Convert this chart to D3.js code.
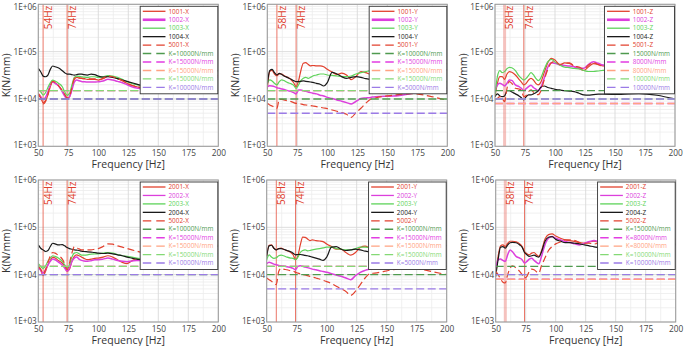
<!DOCTYPE html>
<html><head><meta charset="utf-8">
<script src="https://cdn.jsdelivr.net/npm/d3@7"></script>
<style>body{margin:0;background:#fff;} svg{display:block;font-family:'Open Sans',sans-serif;}</style>
</head><body><svg id="c" width="685" height="346"></svg>
<script>
// ---------- data ----------
const freq = [50,52,54,56,58,60,62,64,67,70,72,74,76,78,80,82,84,86,88,91,94,97,100,104,108,112,116,120,124,128,132,136,140,155,170,185,200];
const xTicks = [50,75,100,125,150,175,200];
const yTicks = [1e3,1e4,1e5,1e6];
const yTickLabels = ["1E+03","1E+04","1E+05","1E+06"];

const k1001X = [13100,11100,8300,9200,12100,18100,23100,22000,18700,14900,12100,10300,11100,16700,26000,28500,27700,27200,26800,26000,26000,26000,25100,26800,30000,29500,26800,24300,21300,19300,18100,17200,16700,18000,22000,27000,31000];
const k1002X = [12100,11100,9800,10800,14200,19700,22700,21300,18700,14200,11500,10100,11100,15400,22700,25100,24300,23500,23100,22700,22700,22700,23100,23900,26000,25100,23500,22000,20000,18100,17000,16400,15900,17000,21000,25000,29000];
const k1003X = [15400,14200,12100,13500,17500,22000,25100,23900,21300,18100,14200,11900,13100,19700,28500,30400,30000,29500,29000,28500,29500,29500,28500,29500,31000,30400,28500,26000,23100,21300,20000,19100,18100,20000,25000,32000,38000];
const k1004X = [44300,37600,30400,29500,32000,42200,49700,48000,45000,39500,35800,33600,33600,32600,32000,32600,33600,33600,32600,32000,33600,32600,30400,29000,29500,28600,26800,25100,23500,22000,20600,19300,18700,20000,24000,32000,40000];
const k5001X = [12500,10500,7900,8800,12500,19000,23500,22500,19000,15000,12500,10500,11500,17500,27000,29000,28000,27500,27000,26500,26500,26500,25500,27500,30500,29500,27000,24500,21500,19500,18300,17500,17000,18500,22500,27500,32000];

const k1001Y = [16000,38000,40000,33700,31000,34000,33700,31000,28700,25200,22000,18200,24000,40000,57000,58600,54000,50000,51000,50000,50000,48000,42300,37000,33000,35000,32000,25500,30000,38000,36000,33000,32000,40000,50000,55000,56000];
const k1002Y = [18200,19100,18800,18200,17300,16800,16300,15800,15000,14300,13600,12800,15500,15500,15000,14500,14100,13600,13200,12800,12000,11600,10800,10200,9530,8950,8370,7840,8950,10200,10500,10800,11200,11500,13000,15500,17000];
const k1003Y = [21400,25200,24000,21400,19800,23200,25200,24400,22100,20800,19400,16800,19800,24400,27300,28700,27300,28700,30600,32100,33700,33700,32100,31500,30600,29600,29600,30600,33700,36000,37800,39700,41000,36000,32000,27000,23000];
const k1004Y = [20000,39700,42300,36000,32100,34800,33000,30600,28200,26000,24400,23200,23200,23600,24000,23600,23200,22800,22400,21400,20500,18800,22100,36600,33700,29600,27300,28700,29600,28700,26900,26000,27300,30000,35000,40000,41000];
const k5001Y = [8100,7460,7110,6670,6350,9850,9850,9530,9100,8800,8370,8100,8100,7840,7600,7460,7350,7250,7110,6900,6670,6450,6250,5860,5500,5150,4740,4100,5200,6350,8100,9850,10500,12000,13000,11500,9300];

const k1001Z = [11200,21400,29600,29600,26000,33700,37800,36800,32100,26000,22700,19800,21400,25200,27300,25200,21400,19800,22100,36000,58000,72300,66700,52300,58000,56700,48000,44000,40000,48000,56000,54000,50000,52000,55000,50000,48000];
const k1002Z = [15500,19800,21400,20400,18800,21400,25200,24700,19800,18200,16800,15000,16500,18200,19500,17500,16200,15000,17000,27300,46700,58300,56700,52300,51000,49800,48000,45000,44400,54000,61500,56700,52300,50000,48000,46000,44000];
const k1003Z = [12300,29600,39700,36000,37800,43700,46700,45500,39700,30600,27300,25200,27300,31500,36000,32500,27300,24400,27300,42300,61500,68800,60000,52000,47000,46000,44000,43000,40000,38000,38000,39000,40000,40000,42000,44000,45000];
const k1004Z = [11200,12800,11600,11200,11600,14900,14900,14000,12800,11600,10600,9530,11200,12200,12200,12800,13600,14900,17500,18800,17500,16800,16000,15500,14900,14700,14300,13200,12200,12000,12400,12600,12600,12500,13000,12000,10000];
const k5001Z = [9500,10300,11200,10300,8800,16800,23200,21400,16800,16200,15000,11200,11800,14300,15500,14000,12800,12300,14300,25200,42000,58000,62000,54000,56700,58300,50000,47000,43000,52300,58300,53000,50000,50000,52000,48000,47000];

const k2001X = [15000,12400,9530,11700,16200,19700,23500,22400,19700,17600,15000,11700,13000,19100,24300,26300,25100,23500,22100,20700,21300,22100,22400,23500,25100,23500,20700,18200,17100,19700,21800,21300,20700,20000,26000,34000,42000];
const k2002X = [13800,12400,10800,12700,16000,19100,21300,20700,18200,16000,13800,11900,13800,19100,22400,23500,21300,20000,19400,19100,19700,20700,20700,21300,22400,21300,20000,19100,18800,19400,20000,19700,19400,20000,23000,26000,28000];
const k2003X = [17000,15000,13600,15400,19100,22400,25100,24300,22100,19100,16200,13800,16200,23500,28500,29400,27600,25900,25900,26300,27200,27600,27600,28500,29400,28500,26700,25100,24300,23500,22400,21600,20900,24000,30000,36000,42000];
const k2004X = [42500,36200,33400,30900,32400,39300,46100,44700,42500,43200,40600,37400,35600,34500,33400,32900,32400,31400,30900,30400,29900,29400,28500,28000,28500,27600,26300,25100,23500,22400,21300,20700,20000,23000,28000,34000,40000];
const k5002X = [15400,13100,10500,12700,18200,25100,29400,28500,25100,21300,17000,12700,17600,28500,38700,36800,35000,33400,33400,33400,33400,34500,35600,39300,44700,44000,40600,38100,35600,33400,31400,29400,28500,28000,32000,36000,42000];

const k2001Y = [25100,41800,42500,36200,33400,35600,36200,34500,31900,29400,26300,20700,25100,42500,62400,61600,56900,52500,54200,52500,51500,50000,44300,39300,34500,34500,29400,25900,29400,37400,39900,36200,33400,45000,55000,62000,68000];
const k2002Y = [17000,18200,17600,16700,16200,15700,15400,15200,14700,14200,13600,12700,15000,15400,15000,14500,14100,13600,13100,12700,12100,11700,11200,10500,9840,9220,8510,7850,9520,11200,12300,13100,13800,14000,15000,16500,18000];
const k2003Y = [20700,26300,23500,22100,22700,25100,25900,25100,23500,22400,22100,20700,23500,29400,32400,33400,31900,32400,33400,34500,35600,36800,38100,38100,35600,34500,33400,33400,35600,38100,38100,37400,36200,33000,30000,27000,24000];
const k2004Y = [24300,40600,41800,36200,33400,35600,35600,34500,32400,30400,28500,26300,26700,26700,26300,25500,25100,24300,23500,22400,21300,20000,23500,38100,39300,34500,32400,33400,34500,33400,31400,30400,30900,35000,38000,40000,41000];
const k5002Y = [8510,7850,7250,6690,6170,11700,13600,13100,12700,12100,11900,11200,10800,10500,10000,9840,9520,9220,8930,8510,8110,7610,7140,6490,5700,5030,4420,3640,4470,6170,8510,10500,10800,12700,14000,12000,10000];

const k2001Z = [10000,24300,40600,42500,39300,46100,50800,50800,49200,44700,39300,30900,27600,26300,28500,29400,26300,24300,30900,55900,70100,72400,65700,58800,54200,52500,50000,47700,46100,49200,50800,48400,50000,52000,56000,58000,56000];
const k2002Z = [13800,20700,21300,20000,19100,26300,33400,30400,24300,22400,20700,17600,19100,21300,22100,20000,18200,17000,23500,42500,58800,63700,58800,54200,50000,47700,44700,42500,46100,50000,52500,50000,47700,46000,44000,43000,42000];
const k2003Z = [];
const k2004Z = [9220,20700,38100,39300,36200,42500,47300,48100,47300,42500,38100,29400,26300,24300,25100,25900,24300,23500,29400,50000,61700,63700,55700,51000,47300,47300,46100,44700,42500,40600,38700,37400,36200,38000,40000,42000,44000];
const k5002Z = [11700,10000,8110,6950,6690,10000,13800,15400,13800,11700,10000,8510,9220,11700,13100,12700,11500,10800,15000,22400,32400,39300,44700,49200,54200,54200,52500,47700,46100,46100,44700,46100,47700,50000,52000,50000,48000];

const refXvals = [10000,15000,15000,15000,10000];
const refXnames = ["K=10000N/mm","K=15000N/mm","K=15000N/mm","K=15000N/mm","K=10000N/mm"];
const refYvals = [10000,15000,15000,15000,5000];
const refYnames = ["K=10000N/mm","K=15000N/mm","K=15000N/mm","K=15000N/mm","K=5000N/mm"];
const refZvals = [15000,8000,8000,10000,10000];
const refZ1names = ["15000N/mm","8000N/mm","8000N/mm","10000N/mm","10000N/mm"];
const refZ2names = ["K=15000N/mm","K=8000N/mm","K=8000N/mm","K=10000N/mm","K=10000N/mm"];

const markersX = [54,74];
const markersYZ = [58,74];

// ---------- styles ----------
const C = {red:"#e2412e", mag:"#dc3fdc", grn:"#5ed35a", blk:"#1a1a1a"};
const refColors = ["#4f9a4f","#e23de2","#ffa382","#84d975","#9b7be6"];

function mk(names, vals){
  const cols=[C.red,C.mag,C.grn,C.blk,C.red];
  return names.map((n,i)=>({name:n, values:vals[i], color:cols[i], dashed:i===4}));
}
const panels = [
 {series: mk(["1001-X","1002-X","1003-X","1004-X","5001-X"],[k1001X,k1002X,k1003X,k1004X,k5001X]), rv:refXvals, rn:refXnames, markers:markersX, wide58:false, thickMag:true},
 {series: mk(["1001-Y","1002-Y","1003-Y","1004-Y","5001-Y"],[k1001Y,k1002Y,k1003Y,k1004Y,k5001Y]), rv:refYvals, rn:refYnames, markers:markersYZ, wide58:false, thickMag:true},
 {series: mk(["1001-Z","1002-Z","1003-Z","1004-Z","5001-Z"],[k1001Z,k1002Z,k1003Z,k1004Z,k5001Z]), rv:refZvals, rn:refZ1names, markers:markersYZ, wide58:true, thickMag:true},
 {series: mk(["2001-X","2002-X","2003-X","2004-X","5002-X"],[k2001X,k2002X,k2003X,k2004X,k5002X]), rv:refXvals, rn:refXnames, markers:markersX, wide58:false, thickMag:false},
 {series: mk(["2001-Y","2002-Y","2003-Y","2004-Y","5002-Y"],[k2001Y,k2002Y,k2003Y,k2004Y,k5002Y]), rv:refYvals, rn:refYnames, markers:markersYZ, wide58:false, thickMag:false},
 {series: mk(["2001-Z","2002-Z","2003-Z","2004-Z","5002-Z"],[k2001Z,k2002Z,k2003Z,k2004Z,k5002Z]), rv:refZvals, rn:refZ2names, markers:markersYZ, wide58:true, thickMag:false}
];

const layout = [{x0:38.3,y0:4.3},{x0:267.3,y0:4.3},{x0:495,y0:4.3},{x0:38.3,y0:180},{x0:266.7,y0:180},{x0:495.7,y0:180}];
const PW = 180, PH = 142;
const svg = d3.select("#c");

panels.forEach((p,pi)=>{
  const L = layout[pi];
  const topRow = pi < 3;
  const g = svg.append("g").attr("transform",`translate(${L.x0},${L.y0})`);
  const x = d3.scaleLinear().domain([50,200]).range([0,PW]);
  const y = d3.scaleLog().domain([1e3,1e6]).range([PH,0]);
  const cid = "clip"+pi;
  g.append("clipPath").attr("id",cid).append("rect").attr("width",PW).attr("height",PH);

  // grid
  const minorY = [];
  [1e3,1e4,1e5].forEach(d=>{for(let k=2;k<=9;k++) minorY.push(d*k);});
  g.selectAll(".gy").data(minorY).enter().append("line")
    .attr("x1",0).attr("x2",PW).attr("y1",d=>y(d)).attr("y2",d=>y(d))
    .attr("stroke","#ececec").attr("stroke-width",0.8);
  const minorX = d3.range(62.5,200,25);
  g.selectAll(".gx").data(minorX).enter().append("line")
    .attr("y1",0).attr("y2",PH).attr("x1",d=>x(d)).attr("x2",d=>x(d))
    .attr("stroke","#ececec").attr("stroke-width",0.8);
  g.selectAll(".gX").data(xTicks).enter().append("line")
    .attr("y1",0).attr("y2",PH).attr("x1",d=>x(d)).attr("x2",d=>x(d))
    .attr("stroke","#d9d9d9").attr("stroke-width",0.9);
  g.selectAll(".gY").data(yTicks).enter().append("line")
    .attr("x1",0).attr("x2",PW).attr("y1",d=>y(d)).attr("y2",d=>y(d))
    .attr("stroke","#d9d9d9").attr("stroke-width",0.9);

  const plot = g.append("g").attr("clip-path",`url(#${cid})`);

  // markers
  p.markers.forEach(m=>{
    const wide = p.wide58 && m===58;
    plot.append("line").attr("x1",x(m)).attr("x2",x(m)).attr("y1",0).attr("y2",PH)
      .attr("stroke", wide ? "rgba(232,120,110,0.45)" : "#e8604f")
      .attr("stroke-width", wide ? 3 : 1).attr("opacity", wide?1:0.85);
  });

  // series
  const line = d3.line().x((d,i)=>x(freq[i])).y(d=>y(d)).curve(d3.curveMonotoneX);
  p.series.forEach(s=>{
    if(!s.values.length) return;
    plot.append("path").datum(s.values).attr("d",line).attr("fill","none")
      .attr("stroke",s.color).attr("stroke-width", s.color===C.mag?1.5:1.2)
      .attr("stroke-dasharray", s.dashed ? "7,3.5" : null);
  });
  // reference lines
  p.rv.forEach((v,i)=>{
    plot.append("line").attr("x1",0).attr("x2",PW).attr("y1",y(v)).attr("y2",y(v))
      .attr("stroke",refColors[i]).attr("stroke-width",1.4).attr("stroke-dasharray","8,3.5");
  });

  // frame
  g.append("rect").attr("width",PW).attr("height",PH).attr("fill","none").attr("stroke","#9a9a9a").attr("stroke-width",1);

  // axes
  const ax = g.append("g").attr("transform",`translate(0,${PH})`)
    .call(d3.axisBottom(x).tickValues(xTicks).tickSize(0).tickPadding(4.3));
  ax.select(".domain").remove();
  ax.selectAll("text").attr("font-size",8.3).attr("fill","#444").attr("font-family","'Open Sans',sans-serif");
  const ay = g.append("g").call(d3.axisLeft(y).tickValues(yTicks).tickFormat((d,i)=>yTickLabels[i]).tickSize(0).tickPadding(1.5));
  ay.select(".domain").remove();
  ay.selectAll("text").attr("font-size",8.2).attr("fill","#444").attr("font-family","'Open Sans',sans-serif")
    .attr("dy", (d,i)=> i===0 ? "0.15em" : (i===3 && topRow ? "0.62em" : "0.32em"));

  g.append("text").attr("x",PW/2).attr("y",PH+21.8).attr("text-anchor","middle")
    .attr("font-size",10.5).attr("fill","#333").text("Frequency [Hz]");
  g.append("text").attr("transform",`translate(-28.5,${PH/2}) rotate(-90)`).attr("text-anchor","middle")
    .attr("font-size",10.5).attr("fill","#333").text("K(N/mm)");

  // marker labels
  p.markers.forEach(m=>{
    g.append("text").attr("transform",`translate(${x(m)+8.7},1.5) rotate(-90)`)
      .attr("text-anchor","end").attr("font-size",10).attr("fill","#e0402c").text(m+"Hz");
  });

  // legend
  const items = p.series.map(s=>({name:s.name,color:s.color,dashed:s.dashed,w:(s.color===C.mag&&p.thickMag)?2.6:1.3}))
    .concat(p.rn.map((n,i)=>({name:n,color:refColors[i],dashed:true,w:1.4})));
  const lg = g.append("g");
  const box = lg.append("rect").attr("fill","#fff").attr("stroke","#333").attr("stroke-width",0.9);
  let maxW = 0;
  items.forEach((it,i)=>{
    const cy = 5 + i*8.45;
    lg.append("line").attr("x1",2.6).attr("x2",25.3).attr("y1",cy).attr("y2",cy)
      .attr("stroke",it.color).attr("stroke-width",it.w).attr("stroke-dasharray",it.dashed?"8.5,5":null);
    const t = lg.append("text").attr("x",28.3).attr("y",cy).attr("dy","0.35em")
      .attr("font-size",6.4).attr("fill",it.color).text(it.name);
    maxW = Math.max(maxW, t.node().getComputedTextLength());
  });
  const bw = 28.3 + maxW + 4.5, bh = 87.5;
  box.attr("width",bw).attr("height",bh);
  lg.attr("transform",`translate(${PW-0.5-bw},2)`);
});
</script></body></html>
